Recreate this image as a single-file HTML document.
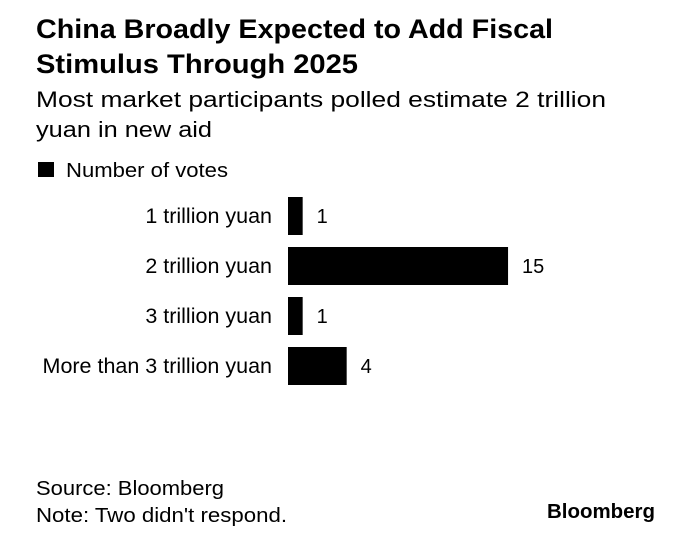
<!DOCTYPE html>
<html><head><meta charset="utf-8"><style>
html,body{margin:0;padding:0;background:#fff;}
svg text{font-family:"Liberation Sans",sans-serif;fill:#000;}
</style></head><body>
<svg width="698" height="540" viewBox="0 0 698 540">
<text x="36" y="38" font-size="27" font-weight="bold" textLength="517" lengthAdjust="spacingAndGlyphs">China Broadly Expected to Add Fiscal</text>
<text x="36" y="73" font-size="27" font-weight="bold" textLength="322" lengthAdjust="spacingAndGlyphs">Stimulus Through 2025</text>
<text x="36" y="107" font-size="22" textLength="570" lengthAdjust="spacingAndGlyphs">Most market participants polled estimate 2 trillion</text>
<text x="36" y="137" font-size="22" textLength="176" lengthAdjust="spacingAndGlyphs">yuan in new aid</text>
<rect x="38" y="162" width="16" height="15" fill="#000"/>
<text x="66" y="177" font-size="20" textLength="162" lengthAdjust="spacingAndGlyphs">Number of votes</text>
<g id="bars"></g>
<text x="36" y="495" font-size="20" textLength="188" lengthAdjust="spacingAndGlyphs">Source: Bloomberg</text>
<text x="36" y="522" font-size="20" textLength="251" lengthAdjust="spacingAndGlyphs">Note: Two didn't respond.</text>
<text x="547" y="518" font-size="20" font-weight="bold" textLength="108" lengthAdjust="spacingAndGlyphs">Bloomberg</text>
</svg>
<script>
const categories = ["1 trillion yuan","2 trillion yuan","3 trillion yuan","More than 3 trillion yuan"];
const votes = [1, 15, 1, 4];
const x0 = 288, unit = 14.67, top0 = 197, pitch = 50, bh = 38;
const NS = "http://www.w3.org/2000/svg";
const g = document.getElementById("bars");
function xs(v){return x0 + v*unit;}
categories.forEach((c,i)=>{
  const y = top0 + i*pitch;
  const r = document.createElementNS(NS,"rect");
  
  
  r.setAttribute("x", x0); r.setAttribute("y", y);
  r.setAttribute("width", xs(votes[i]) - x0); r.setAttribute("height", bh);
  r.setAttribute("fill", "#000");
  g.appendChild(r);
  const l = document.createElementNS(NS,"text");
  
  
  l.setAttribute("x", 272); l.setAttribute("y", y + 26);
  l.setAttribute("font-size", "21.5"); l.setAttribute("text-anchor", "end");
  l.textContent = c;
  g.appendChild(l);
  const v = document.createElementNS(NS,"text");
  
  
  v.setAttribute("x", xs(votes[i]) + 14); v.setAttribute("y", y + 26);
  v.setAttribute("font-size", "20");
  v.textContent = votes[i];
  g.appendChild(v);
});
</script>
</body></html>
